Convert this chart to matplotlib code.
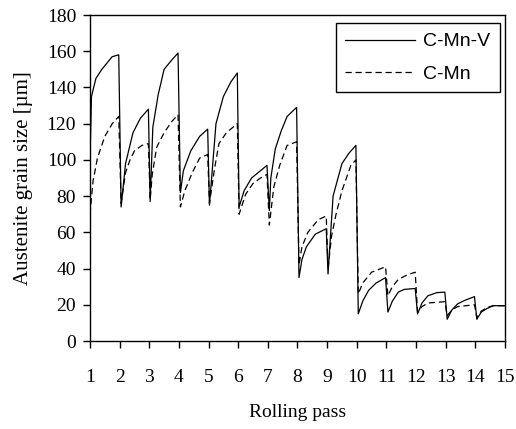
import matplotlib
matplotlib.use("Agg")
import matplotlib.pyplot as plt

# --- 数据 ---
# C-Mn-V: 实线
cmnv_x = [1.0, 1.05, 1.2, 1.4, 1.75, 1.97,
          2.05, 2.2, 2.45, 2.7, 2.97,
          3.03, 3.12, 3.3, 3.5, 3.75, 3.97,
          4.05, 4.15, 4.4, 4.7, 4.97,
          5.03, 5.25, 5.5, 5.75, 5.97,
          6.03, 6.2, 6.45, 6.75, 6.97,
          7.05, 7.1, 7.25, 7.45, 7.65, 7.97,
          8.05, 8.15, 8.3, 8.6, 8.97,
          9.03, 9.2, 9.5, 9.75, 9.97,
          10.05, 10.2, 10.4, 10.65, 10.97,
          11.05, 11.2, 11.4, 11.6, 11.97,
          12.05, 12.2, 12.4, 12.7, 12.97,
          13.05, 13.2, 13.4, 13.65, 13.97,
          14.05, 14.2, 14.4, 14.6, 15.0]
cmnv_y = [100, 135, 145, 150, 157, 158,
          74, 98, 115, 123, 128,
          77, 118, 136, 150, 155, 159,
          82, 94, 105, 113, 117,
          75, 120, 135, 143, 148,
          74, 83, 90, 94, 97,
          72, 90, 106, 116, 124, 129,
          35, 45, 52, 59, 62,
          37, 80, 98, 104, 108,
          15, 22, 28, 32, 35,
          16, 22, 27, 28.5, 29,
          15, 21, 25, 26.7, 27,
          12, 17, 20.5, 22.5, 24.5,
          12, 16, 18, 19.5, 19.5]

# C-Mn: 虚线
cmn_x = [1.0, 1.1, 1.25, 1.5, 1.75, 1.97,
         2.05, 2.2, 2.35, 2.5, 2.75, 2.97,
         3.03, 3.1, 3.25, 3.5, 3.75, 3.97,
         4.05, 4.2, 4.45, 4.7, 4.97,
         5.03, 5.2, 5.35, 5.6, 5.97,
         6.03, 6.25, 6.5, 6.75, 6.97,
         7.05, 7.2, 7.4, 7.65, 7.97,
         8.05, 8.15, 8.35, 8.7, 8.97,
         9.03, 9.15, 9.3, 9.5, 9.8, 9.97,
         10.05, 10.2, 10.5, 10.97,
         11.05, 11.2, 11.4, 11.7, 11.97,
         12.05, 12.2, 12.4, 12.97,
         13.05, 13.2, 13.4, 13.97,
         14.05, 14.2, 14.4, 14.6, 15.0]
cmn_y = [70, 88, 101, 113, 120, 124,
         76, 93, 100, 105, 108, 109,
         78, 92, 107, 115, 121, 125,
         74, 83, 93, 101, 103,
         76, 95, 109, 115, 120,
         70, 81, 87, 90, 92,
         64, 85, 97, 108, 110,
         42, 52, 60, 67, 69,
         40, 58, 70, 83, 97, 100,
         26, 32, 38, 41,
         25, 30, 34, 36.5, 38,
         16, 19, 21, 21.7,
         14, 17, 19, 20,
         13, 16.5, 18.5, 19.5, 19.5]

x_ticks = list(range(1, 16))
y_ticks = list(range(0, 181, 20))

SERIF = ["Liberation Serif", "DejaVu Serif"]
SANS = ["Liberation Sans", "DejaVu Sans"]


def main():
    fig = plt.figure(figsize=(5.16, 4.29), dpi=100)
    ax = fig.add_axes([0.1744, 0.2051, 0.8043, 0.7599])

    ax.plot(cmnv_x, cmnv_y, color="black", lw=0.9, label="C-Mn-V")
    ax.plot(cmn_x, cmn_y, color="black", lw=0.9, dashes=(5, 3), label="C-Mn")

    ax.set_xlim(1, 15)
    ax.set_ylim(0, 180)
    ax.set_xticks(x_ticks)
    ax.set_yticks(y_ticks)

    for sp in ax.spines.values():
        sp.set_linewidth(1.0)
        sp.set_color("black")

    ax.tick_params(axis="x", direction="out", length=5, width=1.0, pad=15)
    ax.tick_params(axis="y", direction="out", length=5, width=1.0, pad=5)
    for lbl in ax.get_xticklabels() + ax.get_yticklabels():
        lbl.set_family(SERIF)
        lbl.set_fontsize(14)

    ax.set_xlabel("Rolling pass", family=SERIF, fontsize=14, labelpad=13)
    ax.set_ylabel("Austenite grain size [µm]", family=SERIF, fontsize=15, labelpad=10)

    # 图例位置: 右上角, 贴近边框
    leg = ax.legend(loc="upper right", bbox_to_anchor=(0.988, 0.975),
                    prop={"family": SANS, "size": 14},
                    handlelength=3.6, handletextpad=0.4, labelspacing=0.75,
                    borderpad=0.5, borderaxespad=0.0, fancybox=False,
                    frameon=True, framealpha=1)
    leg.get_frame().set_edgecolor("black")
    leg.get_frame().set_linewidth(1.0)

    fig.savefig("out.png", dpi=100)
    plt.close(fig)


if __name__ == "__main__":
    main()
